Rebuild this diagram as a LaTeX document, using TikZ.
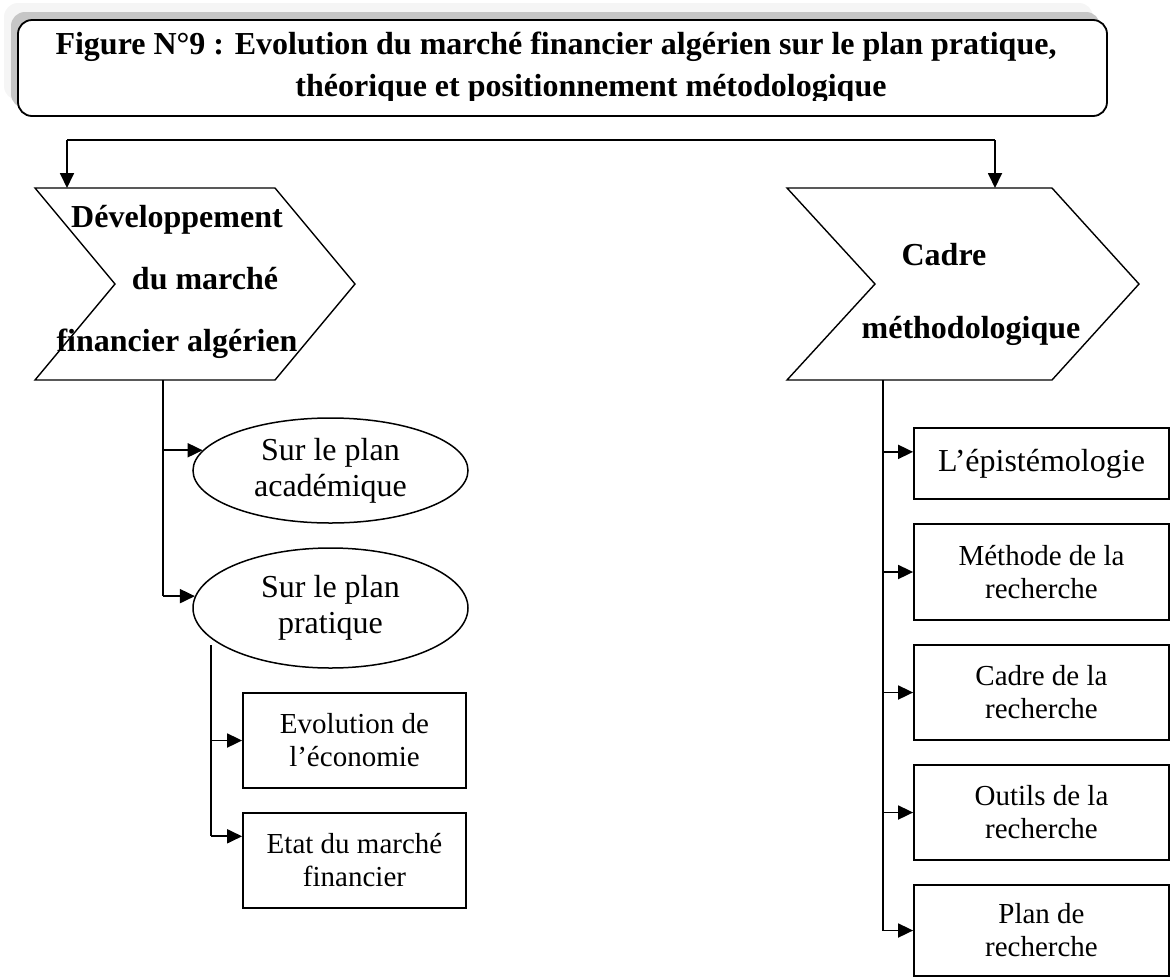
\documentclass[tikz,border=0pt]{standalone}
\usepackage{fontspec}
\setmainfont{Liberation Serif}
\usetikzlibrary{arrows.meta,calc,shapes.geometric}

\begin{document}
\begin{tikzpicture}[x=1pt,y=-1pt,
  conn/.style={line width=1.8pt},
  arr/.style={line width=1.8pt,-{Triangle[length=15pt,width=14pt]}},
  chev/.style={draw,line width=1.4pt,line join=miter},
  headtxt/.style={font=\fontsize{32}{62}\selectfont\bfseries,align=center,inner sep=0pt},
  oval/.style={draw,ellipse,line width=1.5pt,minimum width=275pt,inner sep=0pt,
    font=\fontsize{32}{36}\selectfont,align=center},
  leaf/.style={draw,rectangle,line width=1.8pt,inner sep=0pt,
    font=\fontsize{29}{33}\selectfont,align=center},
]
\useasboundingbox (0,0) rectangle (1171,978);

% title banner with its soft shadow
\fill[gray!8, rounded corners=14pt] (4,3) rectangle (1093,100);
\fill[gray!45, rounded corners=14pt] (11,12) rectangle (1100,108);
\node[draw, fill=white, line width=1.8pt, rounded corners=14pt, inner sep=0pt,
      minimum width=1089pt, minimum height=96pt] (title) at (562.5,68) {};
\begin{scope}
  \clip (18,20) rectangle (1107,100);
  \node[font=\fontsize{32}{42}\selectfont\bfseries, align=center, inner sep=0pt,
        anchor=north] (titletext) at (556,32)
    {Figure N°9 : Evolution du marché financier algérien sur le plan pratique,\\
     \hspace*{70pt}théorique et positionnement métodologique};
\end{scope}

% left chevron
\coordinate (dA) at (35,188);
\coordinate (dB) at (275,188);
\coordinate (dC) at (355,284);
\coordinate (dD) at (275,380);
\coordinate (dE) at (35,380);
\coordinate (dF) at (115,284);
\draw[chev] (dA) -- (dB) -- (dC) -- (dD) -- (dE) -- (dF) -- cycle;
\node[headtxt, anchor=north] (devtxt) at (177,205)
  {Développement\\\hspace*{56pt}du marché\\financier algérien};

% right chevron
\coordinate (cA) at (787,188);
\coordinate (cB) at (1052,188);
\coordinate (cC) at (1139,284);
\coordinate (cD) at (1052,380);
\coordinate (cE) at (787,380);
\coordinate (cF) at (875,284);
\draw[chev] (cA) -- (cB) -- (cC) -- (cD) -- (cE) -- (cF) -- cycle;
\node[headtxt, font=\fontsize{32}{73}\selectfont\bfseries, anchor=north] (cadtxt) at (944,243)
  {Cadre\\\hspace*{54pt}méthodologique};

% distribution bar from the banner
\coordinate (busL) at (67,140);
\coordinate (busR) at (995,140);
\draw[line width=1.5pt] (busL) -- (busR);
\draw[arr] (busL) -- (busL |- dA);
\draw[arr] (busR) -- (busR |- cA);

% left branch: the two planes
\node[oval, minimum height=105pt] (e1) at (330.5,470.5) {Sur le plan\\académique};
\node[oval, minimum height=120pt] (e2) at (330.5,608) {Sur le plan\\pratique};
\coordinate (dBot) at (163,380);
\draw[conn] (dBot) -- (dBot |- e2.175);
\draw[arr] (dBot |- e1.171) -- (e1.171);
\draw[arr] (dBot |- e2.175) -- (e2.175);

% practical plane details
\node[leaf, minimum width=223pt, minimum height=95pt] (b1) at (354.5,740.5) {Evolution de\\l’économie};
\node[leaf, minimum width=223pt, minimum height=95pt] (b2) at (354.5,860.5) {Etat du marché\\financier};
\coordinate (pTop) at (211,645);
\coordinate (b2a) at ($(b2.north west)!0.25!(b2.south west)$);
\draw[conn] (pTop) -- (pTop |- b2a);
\draw[arr] (pTop |- b1.west) -- (b1.west);
\draw[arr] (pTop |- b2a) -- (b2a);

% methodological framework
\node[leaf, minimum width=255pt, minimum height=71pt, font=\fontsize{32}{36}\selectfont] (r1) at (1041.5,463.5) {L’épistémologie};
\node[leaf, minimum width=255pt, minimum height=96pt] (r2) at (1041.5,572) {Méthode de la\\recherche};
\node[leaf, minimum width=255pt, minimum height=95pt] (r3) at (1041.5,692.5) {Cadre de la\\recherche};
\node[leaf, minimum width=255pt, minimum height=95pt] (r4) at (1041.5,812.5) {Outils de la\\recherche};
\node[leaf, minimum width=255pt, minimum height=91pt] (r5) at (1041.5,930.5) {Plan de\\recherche};
\coordinate (cBot) at (883,380);
\coordinate (r1a) at ($(r1.north west)!0.34!(r1.south west)$);
\draw[conn] (cBot) -- (cBot |- r5.west);
\draw[arr] (cBot |- r1a) -- (r1a);
\foreach \r in {r2,r3,r4,r5}{
  \draw[arr] (cBot |- \r.west) -- (\r.west);
}
\end{tikzpicture}
\end{document}
